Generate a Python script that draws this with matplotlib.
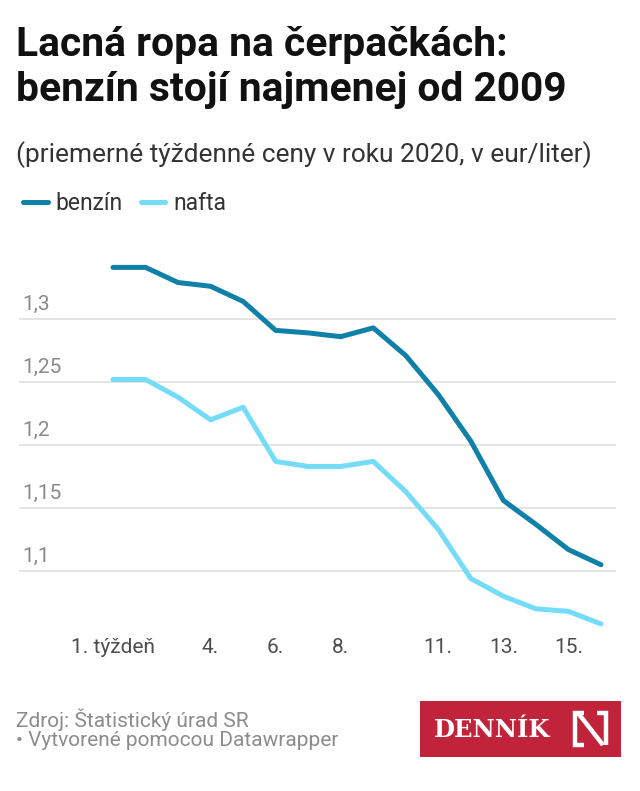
import matplotlib
matplotlib.use("Agg")
import matplotlib.pyplot as plt
from matplotlib.patches import Rectangle
from matplotlib.lines import Line2D
from matplotlib import font_manager

# data
weeks = list(range(1, 17))
benzin = [1.341, 1.341, 1.329, 1.326, 1.314, 1.291, 1.289, 1.286,
          1.293, 1.271, 1.240, 1.203, 1.156, 1.137, 1.117, 1.105]
nafta = [1.252, 1.252, 1.238, 1.220, 1.230, 1.187, 1.183, 1.183,
         1.187, 1.163, 1.133, 1.094, 1.080, 1.070, 1.068, 1.058]
xticks = [1, 4, 6, 8, 11, 13, 15]
xlabels = ["1. týždeň", "4.", "6.", "8.", "11.", "13.", "15."]
yticks = [1.1, 1.15, 1.2, 1.25, 1.3]
ylabels = ["1,1", "1,15", "1,2", "1,25", "1,3"]

names = {f.name for f in font_manager.fontManager.ttflist}
base = "Roboto" if "Roboto" in names else "DejaVu Sans"
plt.rcParams["font.family"] = [base, "DejaVu Sans"]

W, H = 640, 791
fig = plt.figure(figsize=(W / 100, H / 100), dpi=100)

def fx(px):
    return px / W

def fy(py):
    return 1 - py / H

ax = fig.add_axes([fx(19), fy(630), fx(616) - fx(19), fy(250) - fy(630)])
c_benz = "#0f81a8"
c_naft = "#74dcf9"
l1, = ax.plot(weeks, benzin, color=c_benz, lw=3.6, solid_capstyle="round",
              solid_joinstyle="round", label="benzín", zorder=3)
l2, = ax.plot(weeks, nafta, color=c_naft, lw=3.6, solid_capstyle="round",
              solid_joinstyle="round", label="nafta", zorder=3)

ax.set_xlim(-1.889, 16.461)
ax.set_ylim(1.0532, 1.3548)
for s in ax.spines.values():
    s.set_visible(False)
ax.set_yticks(yticks)
ax.yaxis.grid(True, color="#dcdcdc", lw=1.1)
ax.tick_params(axis="y", left=False, labelleft=False)
ax.set_xticks(xticks)
ax.set_xticklabels(xlabels, fontsize=15, color="#4d4d4d")
ax.tick_params(axis="x", length=0, pad=16.5)
for t in ax.get_xticklabels():
    t.set_verticalalignment("baseline")
for v, lab in zip(yticks, ylabels):
    ax.annotate(lab, xy=(0, v), xycoords=ax.get_yaxis_transform(),
                xytext=(3, 9), textcoords="offset pixels",
                fontsize=15, color="#8a8a8a", va="baseline", ha="left")

# title / subtitle
fig.text(fx(16), fy(56), "Lacná ropa na čerpačkách:", fontsize=29.3,
         fontweight="bold", color="#111111", va="baseline")
fig.text(fx(16), fy(101), "benzín stojí najmenej od 2009", fontsize=29.3,
         fontweight="bold", color="#111111", va="baseline")
fig.text(fx(16), fy(162), "(priemerné týždenné ceny v roku 2020, v eur/liter)",
         fontsize=18.9, color="#333333", va="baseline")

fig.legend(handles=[l1, l2], loc="center left", bbox_to_anchor=(fx(12), fy(204)),
           ncol=2, frameon=False, fontsize=16.5, borderpad=0, handlelength=1.05,
           handletextpad=0.35, columnspacing=0.8, labelcolor="#333333")

# footer
fig.text(fx(16), fy(727), "Zdroj: Štatistický úrad SR", fontsize=15,
         color="#8c8c8c", va="baseline")
fig.text(fx(16), fy(746), "• Vytvorené pomocou Datawrapper", fontsize=15,
         color="#8c8c8c", va="baseline")

# logo
red = "#c1243a"
fig.patches.append(Rectangle((fx(420), fy(757)), fx(621) - fx(420), fy(701) - fy(757),
                             transform=fig.transFigure, facecolor=red, edgecolor="none"))
fig.text(fx(434), fy(737), "DENNÍK", fontsize=17.5, fontweight="bold",
         family="DejaVu Serif", color="white", va="baseline")
n_parts = [
    ([584, 575, 575, 584], [713, 713, 745, 745]),
    ([578, 603], [713, 745]),
    ([597, 606, 606], [713, 713, 745]),
]
for xs, ys in n_parts:
    fig.add_artist(Line2D([fx(x) for x in xs], [fy(y) for y in ys],
                          transform=fig.transFigure, color="white", lw=3.2,
                          solid_joinstyle="miter", solid_capstyle="butt"))

fig.savefig("out.png", dpi=100, facecolor="white")
